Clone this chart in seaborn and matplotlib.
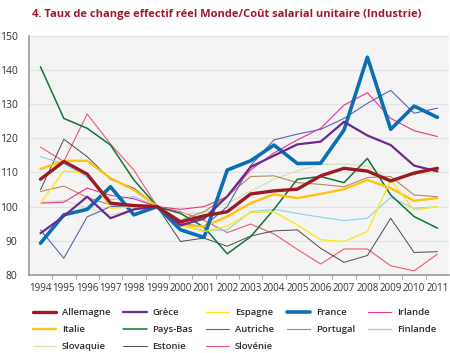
import pandas as pd
import seaborn as sns
import matplotlib.pyplot as plt

# Years on the category axis
years = list(range(1994, 2012))

# Values (index, 1999 = 100)
allemagne = [108, 113.2, 109.5, 101, 100.3, 100, 95.5, 97.3, 98.5, 103.7, 104.6, 105.1, 109, 111.2, 110.4, 107.5, 109.8, 111.2]
grece = [92.2, 97.2, 102.9, 96.6, 99.2, 100, 94.5, 96.5, 103, 111.6, 114.9, 118.2, 119, 124.8, 120.8, 118, 112, 110.3]
espagne = [101, 110.4, 109.8, 99.5, 100, 100, 94.6, 92.7, 94.3, 98.3, 98.5, 94.6, 90.3, 89.8, 92.7, 107.8, 99, 100]
france = [89.3, 97.6, 99.2, 105.8, 97.6, 100, 93.2, 91, 110.7, 113.4, 118, 112.6, 112.7, 122.4, 143.7, 122.6, 129.4, 126.1]
irlande = [101, 101.3, 105.4, 103.3, 102.3, 100, 99.2, 100, 102.9, 110.7, 115.7, 119.5, 122.9, 129.7, 133.3, 125.8, 122.2, 120.5]
italie = [111, 113.4, 113.4, 108.3, 104.9, 100, 94.6, 94.2, 97.1, 101, 103.6, 102.5, 103.7, 105.1, 107.8, 105.4, 101.7, 102.5]
pays_bas = [140.9, 125.8, 122.9, 118, 107.8, 100, 98, 94, 86.2, 91.2, 99.2, 108, 108.8, 107, 114.1, 103.4, 97.1, 93.7]
autriche = [93.2, 84.9, 97, 100, 100.2, 100, 95, 94.2, 100, 112, 119.5, 121.2, 122.6, 125.8, 130.2, 134, 127.3, 128.8]
portugal = [104.4, 106, 102.7, 100.5, 100.5, 100, 96, 98.5, 103, 108.8, 109, 107, 106.5, 105.8, 108.5, 108.8, 103.4, 102.9]
finlande = [114.6, 112.5, 108.6, 102, 102.9, 100, 94.5, 93, 93.2, 98.5, 99.2, 98, 96.9, 95.9, 96.6, 102.7, 99.5, 100]
slovaquie = [101.3, 101.8, 99.6, 97.6, 99, 100, 98, 98.2, 101, 104.5, 108, 110.5, 112.3, 112.5, 111.8, 108, 109.5, 110]
estonie = [104.9, 119.7, 114.6, 108, 105.4, 100, 89.8, 90.8, 88.4, 91.4, 92.9, 93.2, 87.8, 83.7, 85.7, 96.6, 86.6, 86.8]
slovenie = [117.4, 113.2, 127.1, 118.3, 110.7, 100, 98.5, 96, 92.4, 94.9, 92, 87.5, 83.2, 87.6, 87.6, 82.7, 81.2, 86.1]

countries = ['Allemagne', 'Grèce', 'Espagne', 'France', 'Irlande',
             'Italie', 'Pays-Bas', 'Autriche', 'Portugal', 'Finlande',
             'Slovaquie', 'Estonie', 'Slovénie']
series = [allemagne, grece, espagne, france, irlande, italie, pays_bas,
          autriche, portugal, finlande, slovaquie, estonie, slovenie]

colors = {
    'Allemagne': '#9c1b22', 'Grèce': '#6b2a8c', 'Espagne': '#ffe620',
    'France': '#0a6fb5', 'Irlande': '#e8338f', 'Italie': '#ffc20e',
    'Pays-Bas': '#11763a', 'Autriche': '#5467ac', 'Portugal': '#b18a5c',
    'Finlande': '#93d3e6', 'Slovaquie': '#d3e3b4', 'Estonie': '#4a4a4a',
    'Slovénie': '#ef5a6e',
}
widths = {
    'Allemagne': 2.4, 'Grèce': 1.6, 'Espagne': 1.0, 'France': 2.6,
    'Irlande': 0.8, 'Italie': 1.7, 'Pays-Bas': 1.1, 'Autriche': 0.8,
    'Portugal': 0.8, 'Finlande': 0.9, 'Slovaquie': 0.9, 'Estonie': 0.7,
    'Slovénie': 0.8,
}

# Long-form table for seaborn
df = pd.DataFrame({
    'year': years * len(countries),
    'value': [v for s in series for v in s],
    'pays': [c for c in countries for _ in years],
})

sns.set_style('white')
plt.rcParams['font.family'] = ['Open Sans', 'DejaVu Sans']

fig = plt.figure(figsize=(4.5, 3.53), dpi=100)
ax = fig.add_axes([0.064, 0.221, 0.934, 0.678])
ax.set_facecolor('#f4f4f4')

# Draw in reverse order so the thick lines sit on top
handles = {}
for c in reversed(countries):
    sns.lineplot(data=df[df['pays'] == c], x='year', y='value',
                 color=colors[c], linewidth=widths[c], ax=ax,
                 label=c, legend=False)
    handles[c] = ax.lines[-1]

ax.set_xlim(1993.5, 2011.5)
ax.set_ylim(80, 150)
ax.set_xticks(years)
ax.set_xticks([y + 0.5 for y in years[:-1]], minor=True)
ax.set_yticks(range(80, 151, 10))
ax.tick_params(axis='x', which='major', length=0, labelsize=7, colors='#333333', pad=6)
ax.tick_params(axis='x', which='minor', length=3, color='#999999', bottom=True)
ax.tick_params(axis='y', length=0, labelsize=7.5, colors='#333333', pad=8)
ax.grid(axis='y', color='#e2e2e2', linewidth=0.8)
ax.set_axisbelow(True)
ax.set_xlabel('')
ax.set_ylabel('')
for side in ['top', 'right']:
    ax.spines[side].set_visible(False)
ax.spines['left'].set_color('#999999')
ax.spines['bottom'].set_color('#999999')
ax.spines['left'].set_linewidth(1.2)
ax.spines['bottom'].set_linewidth(1.2)

fig.text(0.505, 0.975, '4. Taux de change effectif réel Monde/Coût salarial unitaire (Industrie)',
         ha='center', va='top', fontsize=8, fontweight='bold', color='#a0182a')

# matplotlib fills legend columns first: reorder so rows read like the reference
ncol = 5
order = []
for col in range(ncol):
    order += countries[col::ncol]
leg = fig.legend([handles[c] for c in order], order, ncol=ncol,
                 loc='lower left', bbox_to_anchor=(0.062, -0.008), frameon=False,
                 borderpad=0, fontsize=6.8, handlelength=2.5, handletextpad=0.6,
                 columnspacing=1.35, labelspacing=0.85)
for t in leg.get_texts():
    t.set_fontweight('semibold')
    t.set_color('#2a2a2a')

plt.savefig('out.png', dpi=100)
